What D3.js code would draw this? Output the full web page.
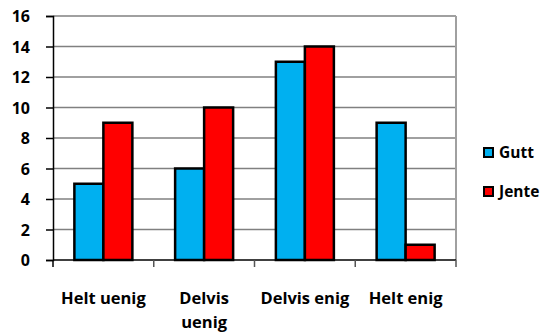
<!DOCTYPE html>
<html>
<head>
<meta charset="utf-8">
<script src="https://cdn.jsdelivr.net/npm/d3@7"></script>
<style>
  html, body { margin: 0; padding: 0; background: #fff; }
  svg text { font-family: "Open Sans", Lato, "Liberation Sans", sans-serif; font-weight: 700; fill: #000; }
</style>
</head>
<body>
<svg id="chart" width="546" height="335"></svg>
<script>
// Survey answers split by gender
const categories = [["Helt uenig"], ["Delvis", "uenig"], ["Delvis enig"], ["Helt enig"]];
const seriesNames = ["Gutt", "Jente"];
const gutt = [5, 6, 13, 9];
const jente = [9, 10, 14, 1];
const yTicks = [0, 2, 4, 6, 8, 10, 12, 14, 16];
const colors = ["#00B0F0", "#FF0000"];

const svg = d3.select("#chart");
const margin = { left: 53, right: 90, top: 16, bottom: 75 };
const W = 546, H = 335;
const x0 = margin.left, x1 = W - margin.right;
const yTop = margin.top, yBot = H - margin.bottom;

const catKeys = categories.map(c => c.join(" "));
const x = d3.scaleBand().domain(catKeys).range([x0, x1]).padding(0);
const y = d3.scaleLinear().domain([0, 16]).range([yBot, yTop]);
const inner = d3.scaleBand().domain(seriesNames).range([0, 58]);

// gridlines
svg.append("g").selectAll("line").data(yTicks.filter(t => t > 0)).join("line")
  .attr("x1", x0).attr("x2", x1)
  .attr("y1", d => y(d)).attr("y2", d => y(d))
  .attr("stroke", "#808080").attr("stroke-width", 1.5);

// right border
svg.append("line").attr("x1", x1).attr("x2", x1).attr("y1", yTop).attr("y2", yBot)
  .attr("stroke", "#a0a0a0").attr("stroke-width", 2);

// y axis
const yAxis = d3.axisLeft(y).tickValues(yTicks).tickSize(7).tickPadding(16);
const gy = svg.append("g").attr("transform", `translate(${x0},0)`).call(yAxis);
gy.select(".domain").attr("stroke", "#000").attr("stroke-width", 1.5);
gy.selectAll(".tick line").attr("stroke", "#000").attr("stroke-width", 1.5);
gy.selectAll(".tick text").style("font-size", "16px").attr("dy", "0.36em");

// x axis line + ticks at band boundaries
svg.append("line").attr("x1", x0).attr("x2", x1).attr("y1", yBot).attr("y2", yBot)
  .attr("stroke", "#000").attr("stroke-width", 1.5);
const boundaries = catKeys.map(k => x(k)).concat([x1]);
svg.append("g").selectAll("line").data(boundaries).join("line")
  .attr("x1", d => d).attr("x2", d => d).attr("y1", yBot).attr("y2", yBot + 7)
  .attr("stroke", (d, i) => i === 0 ? "#000" : "#555").attr("stroke-width", 1.5);

// bars
const series = [gutt, jente];
series.forEach((vals, si) => {
  svg.append("g").selectAll("rect").data(vals).join("rect")
    .attr("x", (d, i) => x(catKeys[i]) + x.bandwidth() / 2 - 29 + inner(seriesNames[si]))
    .attr("width", inner.bandwidth())
    .attr("y", d => y(d))
    .attr("height", d => yBot - y(d))
    .attr("fill", colors[si])
    .attr("stroke", "#000").attr("stroke-width", 2.5);
});

// category labels
const lab = svg.append("g").selectAll("text").data(categories).join("text")
  .attr("text-anchor", "middle")
  .attr("x", (d, i) => x(catKeys[i]) + x.bandwidth() / 2)
  .attr("y", 304)
  .style("font-size", "16.5px");
lab.selectAll("tspan").data(d => d).join("tspan")
  .attr("x", function () { return d3.select(this.parentNode).attr("x"); })
  .attr("dy", (d, i) => i === 0 ? 0 : 24)
  .text(d => d);

// legend
const leg = svg.append("g").selectAll("g").data(seriesNames).join("g")
  .attr("transform", (d, i) => `translate(484,${148 + i * 39})`);
leg.append("rect").attr("width", 9).attr("height", 9)
  .attr("fill", (d, i) => colors[i]).attr("stroke", "#000").attr("stroke-width", 2);
leg.append("text").attr("x", 15).attr("y", 4).attr("dy", "0.36em")
  .style("font-size", "15.5px").text(d => d);
</script>
</body>
</html>
